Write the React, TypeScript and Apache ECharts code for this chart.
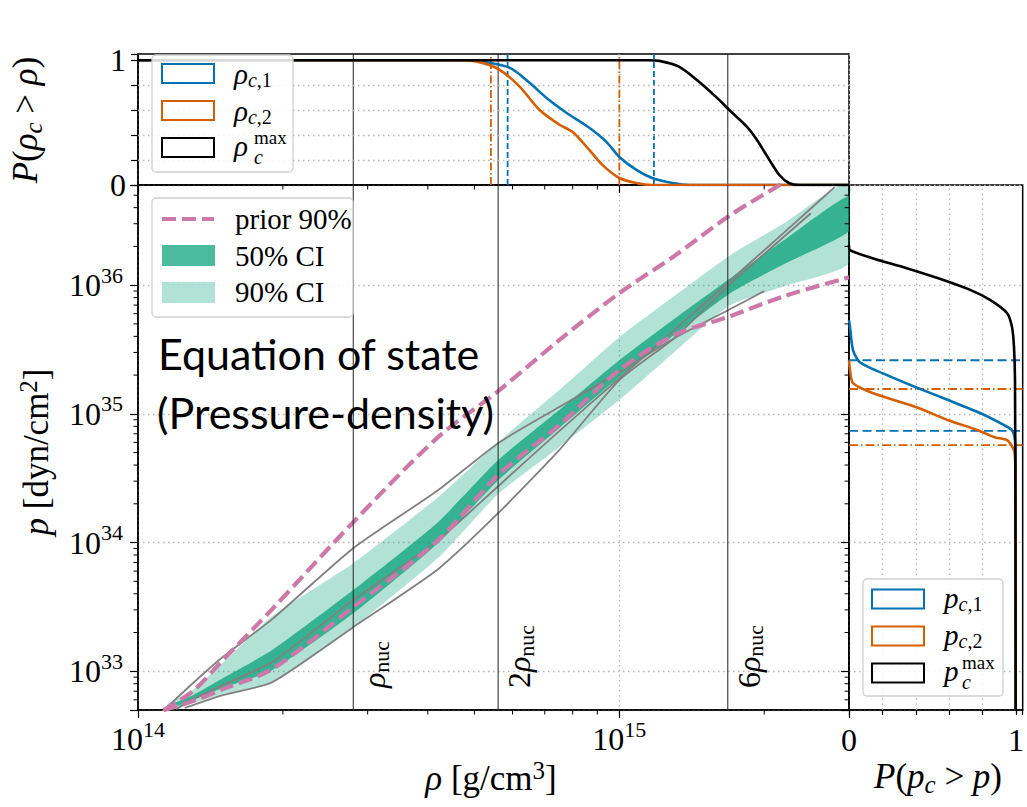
import React, { useEffect, useRef } from 'react';
import * as echarts from 'echarts';

// ---- axis ranges ----
const RHO_MIN = 1e14;
const RHO_MAX = 3e15;
const P_MIN = 5e32;
const P_MAX = 6e36;
const PROB_TOP = 1.05;
const PROB_RIGHT = 1.04;

// nuclear saturation density and the multiples marked on the plot
const RHO_NUC = 2.8e14;
const NUC_MULTIPLES = [1, 2, 6];

// ---- posterior credible bands (rho in g/cm^3, p in dyn/cm^2) ----
const bandRho = [1.15e14, 1.3e14, 1.5e14, 1.9e14, 2.8e14, 4.2e14, 5.6e14, 7.5e14, 1e15, 1.3e15, 1.7e15, 2.2e15, 3e15];
const ci90Upper = [5.55e32, 7.13e32, 1.16e33, 2.68e33, 6.92e33, 2.25e34, 6.03e34, 1.53e35, 3.94e35, 8.22e35, 1.71e36, 3.03e36, 6.31e36];
const ci50Upper = [5.36e32, 6.52e32, 8.83e32, 1.46e33, 4.27e33, 1.44e34, 4.37e34, 1.07e35, 2.61e35, 5.45e35, 1.13e36, 2.24e36, 4.92e36];
const ci50Lower = [5.08e32, 5.96e32, 7.4e32, 1.02e33, 2.82e33, 9.89e33, 3.05e34, 7.74e34, 1.93e35, 4.09e35, 8.67e35, 1.46e36, 2.63e36];
const ci90Lower = [4.9e32, 5.65e32, 6.64e32, 8.07e32, 2.2e33, 7.57e33, 2.38e34, 5.51e34, 1.28e35, 3.01e35, 7.0e35, 9.82e35, 1.48e36];

// ---- prior 90% envelope ----
const priorRho = [1.13e14, 1.3e14, 1.5e14, 1.9e14, 2.8e14, 4.2e14, 5.6e14, 7.5e14, 1e15, 1.3e15, 1.7e15, 2.2e15, 3e15];
const priorUpper = [4.99e32, 7.0e32, 1.22e33, 3.04e33, 1.44e34, 6.59e34, 1.5e35, 3.74e35, 8.67e35, 1.68e36, 3.5e36, 6.31e36, 1.35e37];
const priorLower = [4.99e32, 5.86e32, 7.26e32, 1.04e33, 3.15e33, 1.04e34, 3.34e34, 8.17e34, 2.19e35, 4.09e35, 5.74e35, 8.22e35, 1.15e36];

// ---- sample equations of state ----
const eosARho = [1.12e14, 1.3e14, 1.5e14, 1.9e14, 2.8e14, 4.2e14, 5.6e14, 7.5e14, 1e15, 1.3e15, 1.7e15, 2.0e15];
const eosAP = [4.8e32, 8.07e32, 1.29e33, 2.54e33, 9.04e33, 2.55e34, 5.92e34, 1.13e35, 2.11e35, 3.87e35, 6.52e35, 8.98e35];
const eosBRho = [1.2e14, 1.3e14, 1.5e14, 1.9e14, 2.8e14, 4.2e14, 5.6e14, 7.5e14, 1e15, 1.3e15, 1.7e15, 2.3e15, 2.8e15];
const eosBP = [5.08e32, 6.07e32, 7.8e32, 1.18e33, 3.57e33, 1.04e34, 2.74e34, 7.34e34, 1.89e35, 4.47e35, 1.09e36, 2.98e36, 5.77e36];
const eosCRho = [1.25e14, 1.3e14, 1.5e14, 1.9e14, 2.8e14, 4.2e14, 5.6e14, 7.5e14, 1e15, 1.3e15, 1.7e15, 2.5e15];
const eosCP = [5.18e32, 5.46e32, 6.52e32, 8.22e32, 2.2e33, 6.21e33, 1.69e34, 5.22e34, 1.83e35, 3.87e35, 1.02e36, 3.62e36];

// ---- survival functions of the central density ----
const rhoC1Rho = [1e14, 4.88e14, 5.12e14, 5.91e14, 6.5e14, 7.05e14, 7.76e14, 8.66e14, 9.4e14, 1e15, 1.085e15, 1.17e15, 1.29e15, 1.4e15, 3e15];
const rhoC1Prob = [1, 1, 0.992, 0.941, 0.821, 0.7, 0.579, 0.459, 0.346, 0.225, 0.121, 0.056, 0.016, 0, 0];
const rhoC2Rho = [1e14, 4.6e14, 5.12e14, 5.63e14, 6.2e14, 6.82e14, 7.51e14, 7.99e14, 8.66e14, 9.22e14, 1e15, 1.085e15, 1.17e15, 3e15];
const rhoC2Prob = [1, 1, 0.985, 0.925, 0.791, 0.603, 0.483, 0.426, 0.282, 0.161, 0.056, 0.016, 0, 0];
const rhoMaxRho = [1e14, 1.15e15, 1.21e15, 1.33e15, 1.47e15, 1.61e15, 1.69e15, 1.84e15, 1.93e15, 2.05e15, 2.15e15, 2.25e15, 2.37e15, 3e15];
const rhoMaxProb = [1, 1, 0.995, 0.949, 0.821, 0.684, 0.603, 0.467, 0.362, 0.201, 0.08, 0.016, 0, 0];
// credible-interval bounds of the central density
const rhoC1Bounds = [5.86e14, 1.18e15];
const rhoC2Bounds = [5.41e14, 1.0e15];

// ---- survival functions of the central pressure ----
const pC1P = [5.35e35, 4.72e35, 3.13e35, 2.52e35, 2.07e35, 1.61e35, 1.28e35, 1.01e35, 8.17e34, 7.47e34, 6.25e34, 4.37e34, 5e32];
const pC1Prob = [0, 0.006, 0.024, 0.065, 0.2, 0.4, 0.594, 0.788, 0.929, 0.976, 0.994, 0.997, 0.998];
const pC2P = [2.61e35, 2.19e35, 1.73e35, 1.45e35, 1.13e35, 8.93e34, 7.47e34, 6.59e34, 6.25e34, 5.22e34, 4.61e34, 3.05e34, 5e32];
const pC2Prob = [0, 0.006, 0.024, 0.141, 0.4, 0.594, 0.771, 0.871, 0.947, 0.988, 0.994, 0.997, 0.998];
const pMaxP = [2.05e36, 1.87e36, 1.62e36, 1.36e36, 1.13e36, 9.14e35, 7.64e35, 6.05e35, 4.72e35, 3.3e35, 1.83e35, 1e34, 5e32];
const pMaxProb = [0, 0.006, 0.141, 0.341, 0.535, 0.729, 0.847, 0.947, 0.976, 0.988, 0.994, 0.997, 0.998];
// credible-interval bounds of the central pressure
const pC1Bounds = [2.61e35, 7.38e34];
const pC2Bounds = [1.56e35, 5.72e34];

// ---- tick positions ----
const probGrid = [0.2, 0.4, 0.6, 0.8];
const rhoMinorTicks = [2e14, 3e14, 4e14, 5e14, 6e14, 7e14, 8e14, 9e14, 2e15];
const pMinorTicks = [
  6e32, 7e32, 8e32, 9e32,
  2e33, 3e33, 4e33, 5e33, 6e33, 7e33, 8e33, 9e33,
  2e34, 3e34, 4e34, 5e34, 6e34, 7e34, 8e34, 9e34,
  2e35, 3e35, 4e35, 5e35, 6e35, 7e35, 8e35, 9e35,
  2e36, 3e36, 4e36, 5e36,
];

const SERIF = "'Liberation Serif', 'DejaVu Serif', serif";
const SANS = "Lato, 'Open Sans', sans-serif";
const BLUE = '#0072B2';
const ORANGE = '#D55E00';
const PINK = '#CC79A7';
const GREY = '#808080';
const GRID_DOT = '#b5b5b5';

const mathRich = (size: number, lift = 6) => {
  const s = Math.round(size * 0.7);
  return {
    i: { fontFamily: SERIF, fontStyle: 'italic', fontSize: size, lineHeight: size + lift, color: '#000' },
    r: { fontFamily: SERIF, fontSize: size, lineHeight: size + lift, color: '#000' },
    sbi: { fontFamily: SERIF, fontStyle: 'italic', fontSize: s, lineHeight: s, verticalAlign: 'bottom', color: '#000' },
    sbr: { fontFamily: SERIF, fontSize: s, lineHeight: s, verticalAlign: 'bottom', color: '#000' },
    sp: { fontFamily: SERIF, fontSize: s, lineHeight: s, verticalAlign: 'top', color: '#000' },
  };
};

const tickRich = {
  b: { fontFamily: SERIF, fontSize: 32, lineHeight: 42, color: '#000' },
  s: { fontFamily: SERIF, fontSize: 22, lineHeight: 22, verticalAlign: 'top', color: '#000' },
};

const powLabel = (v: number) => {
  const e = Math.log10(v);
  const n = Math.round(e);
  return Math.abs(e - n) < 1e-6 ? `{b|10}{s|${n}}` : '';
};
const zeroOneLabel = (v: number) => (Math.abs(v) < 1e-9 ? '0' : Math.abs(v - 1) < 1e-9 ? '1' : '');

const pairs = (xs: number[], ys: number[]) => xs.map((x, i) => [x, ys[i]]);

const lineSeries = (
  xi: number, yi: number, data: number[][], color: string, width: number,
  type: any = 'solid', z = 5, smooth: number | boolean = false,
) => ({
  type: 'line', xAxisIndex: xi, yAxisIndex: yi, data, symbol: 'none', silent: true, z,
  smooth, lineStyle: { color, width, type, cap: 'butt' }, clip: true,
});

const bandSeries = (lower: number[], upper: number[], fill: string, z: number) => ({
  type: 'custom', xAxisIndex: 1, yAxisIndex: 1, clip: true, silent: true, z,
  data: bandRho.map((r, i) => [r, lower[i], upper[i]]),
  encode: { x: 0, y: [1, 2] },
  renderItem: (params: any, api: any) => {
    if (params.dataIndex !== 0) return null;
    const top = bandRho.map((r, i) => api.coord([r, upper[i]]));
    const bottom = bandRho.map((r, i) => api.coord([r, lower[i]])).reverse();
    return { type: 'polygon', shape: { points: top.concat(bottom), smooth: 0.18 }, style: { fill } };
  },
});

const tickSeries = (xi: number, yi: number, data: number[][], dx: number, dy: number) => ({
  type: 'custom', xAxisIndex: xi, yAxisIndex: yi, clip: false, silent: true, z: 20,
  data,
  renderItem: (params: any, api: any) => {
    const pt = api.coord([api.value(0), api.value(1)]);
    return {
      type: 'line',
      shape: { x1: pt[0], y1: pt[1], x2: pt[0] + dx, y2: pt[1] + dy },
      style: { stroke: '#000', lineWidth: 1 },
    };
  },
});

const gridMarkSeries = (xi: number, yi: number, anchor: number[], marks: any[]) => ({
  type: 'line', xAxisIndex: xi, yAxisIndex: yi, data: [anchor], symbol: 'none', silent: true, z: 1,
  lineStyle: { opacity: 0 },
  markLine: {
    silent: true, symbol: 'none', label: { show: false },
    lineStyle: { color: GRID_DOT, type: [1.5, 3.5], width: 1.3 },
    data: marks,
  },
});

const nucLabelSeries = {
  type: 'custom', xAxisIndex: 1, yAxisIndex: 1, clip: false, silent: true, z: 30,
  data: NUC_MULTIPLES.map((k) => [k * RHO_NUC, P_MIN, k]),
  renderItem: (params: any, api: any) => {
    const pt = api.coord([api.value(0), api.value(1)]);
    const k = api.value(2);
    const text = k === 1 ? '{i|ρ}{sbr|nuc}' : `{r|${k}}{i|ρ}{sbr|nuc}`;
    return {
      type: 'text', x: pt[0] + 21, y: pt[1] - 22, rotation: Math.PI / 2,
      style: { text, rich: mathRich(32, 4), align: 'left', verticalAlign: 'middle', fill: '#000' },
    };
  },
};

const textEl = (x: number, y: number, text: string, size: number, extra: any = {}, lift = 6) => ({
  type: 'text', x, y, z: 100, silent: true,
  ...extra,
  style: {
    text, rich: mathRich(size, lift), fontFamily: SERIF, fontSize: size, fill: '#000',
    align: 'left', verticalAlign: 'middle', ...(extra.style || {}),
  },
});

const plainText = (x: number, y: number, text: string, size: number, italic = false) => ({
  type: 'text', x, y, z: 100, silent: true,
  style: {
    text, fontFamily: SERIF, fontSize: size, fontStyle: italic ? 'italic' : 'normal', fill: '#000',
    align: 'left', verticalAlign: 'middle',
  },
});

const legendBox = (x: number, y: number, w: number, h: number) => ({
  type: 'rect', z: 90, silent: true,
  shape: { x, y, width: w, height: h, r: 4 },
  style: { fill: 'rgba(255,255,255,0.85)', stroke: '#d0d0d0', lineWidth: 1.3 },
});

const outlinePatch = (x: number, cy: number, color: string) => ({
  type: 'rect', z: 95, silent: true,
  shape: { x, y: cy - 9.5, width: 52, height: 19 },
  style: { fill: 'none', stroke: color, lineWidth: 2 },
});

function buildOption() {
  const series: any[] = [];

  // --- top panel: P(rho_c > rho) ---
  series.push(gridMarkSeries(0, 0, [RHO_MIN, 0], probGrid.map((v) => ({ yAxis: v }))));
  NUC_MULTIPLES.forEach((k) =>
    series.push(lineSeries(0, 0, [[k * RHO_NUC, 0], [k * RHO_NUC, PROB_TOP]], '#222', 1, 'solid', 3)),
  );
  rhoC1Bounds.forEach((r) =>
    series.push(lineSeries(0, 0, [[r, 0], [r, PROB_TOP]], BLUE, 1.8, [6, 3], 4)),
  );
  rhoC2Bounds.forEach((r) =>
    series.push(lineSeries(0, 0, [[r, 0], [r, PROB_TOP]], ORANGE, 1.8, [8, 2.5, 1.5, 2.5], 4)),
  );
  series.push(lineSeries(0, 0, pairs(rhoC1Rho, rhoC1Prob), BLUE, 2.6, 'solid', 6, 0.3));
  series.push(lineSeries(0, 0, pairs(rhoC2Rho, rhoC2Prob), ORANGE, 2.6, 'solid', 6, 0.3));
  series.push(lineSeries(0, 0, pairs(rhoMaxRho, rhoMaxProb), '#000', 2.6, 'solid', 6, 0.3));
  series.push(tickSeries(0, 0, rhoMinorTicks.map((r) => [r, 0]), 0, 4.5));

  // --- main panel: pressure vs density ---
  series.push(bandSeries(ci90Lower, ci90Upper, 'rgba(0,158,115,0.3)', 2));
  series.push(bandSeries(ci50Lower, ci50Upper, 'rgba(0,158,115,0.7)', 3));
  [pairs(eosARho, eosAP), pairs(eosBRho, eosBP), pairs(eosCRho, eosCP)].forEach((d) =>
    series.push(lineSeries(1, 1, d, GREY, 1.8, 'solid', 5, 0.2)),
  );
  series.push(lineSeries(1, 1, pairs(priorRho, priorUpper), PINK, 4.2, [14, 6], 7, 0.3));
  series.push(lineSeries(1, 1, pairs(priorRho, priorLower), PINK, 4.2, [14, 6], 7, 0.3));
  NUC_MULTIPLES.forEach((k) =>
    series.push(lineSeries(1, 1, [[k * RHO_NUC, P_MIN], [k * RHO_NUC, P_MAX]], '#222', 1, 'solid', 8)),
  );
  series.push(nucLabelSeries);
  series.push(tickSeries(1, 1, rhoMinorTicks.map((r) => [r, P_MIN]), 0, 4.5));
  series.push(tickSeries(1, 1, pMinorTicks.map((p) => [RHO_MIN, p]), -4.5, 0));

  // --- right panel: P(p_c > p) ---
  series.push(gridMarkSeries(2, 2, [0, P_MIN], probGrid.map((v) => ({ xAxis: v }))));
  pC1Bounds.forEach((p) =>
    series.push(lineSeries(2, 2, [[0, p], [PROB_RIGHT, p]], BLUE, 1.8, [9, 4.5], 4)),
  );
  pC2Bounds.forEach((p) =>
    series.push(lineSeries(2, 2, [[0, p], [PROB_RIGHT, p]], ORANGE, 1.8, [9, 3, 1.5, 3], 4)),
  );
  series.push(lineSeries(2, 2, pairs(pC1Prob, pC1P), BLUE, 2.6, 'solid', 6, 0.25));
  series.push(lineSeries(2, 2, pairs(pC2Prob, pC2P), ORANGE, 2.6, 'solid', 6, 0.25));
  series.push(lineSeries(2, 2, pairs(pMaxProb, pMaxP), '#000', 2.6, 'solid', 6, 0.25));
  series.push(tickSeries(2, 2, pMinorTicks.map((p) => [0, p]), -4.5, 0));

  const axisLine = { show: true, lineStyle: { color: '#000', width: 1.5 } };
  const majorTick = (len: number) => ({ show: true, length: len, lineStyle: { color: '#000', width: 1.2 } });
  const dotted = { show: true, lineStyle: { color: GRID_DOT, type: [1.5, 3.5], width: 1.3 } };
  const frame = { show: true, borderColor: '#000', borderWidth: 1.5, backgroundColor: 'transparent' };

  const graphic: any[] = [
    // headline text
    { type: 'text', x: 158, y: 353, z: 110, silent: true,
      style: { text: 'Equation of state', fontFamily: SANS, fontSize: 43, fill: '#000', align: 'left', verticalAlign: 'middle' } },
    { type: 'text', x: 157, y: 412, z: 110, silent: true,
      style: { text: '(Pressure-density)', fontFamily: SANS, fontSize: 43, fill: '#000', align: 'left', verticalAlign: 'middle' } },

    // axis titles
    textEl(25, 120, '{i|P}{r|(}{i|ρ}{sbi|c}{r| > }{i|ρ}{r|)}', 35, { rotation: Math.PI / 2, style: { align: 'center' } }),
    textEl(36, 452, '{i|p}{r| [dyn/cm}{sp|2}{r|]}', 35, { rotation: Math.PI / 2, style: { align: 'center' } }),
    textEl(491, 778, '{i|ρ}{r| [g/cm}{sp|3}{r|]}', 35, { style: { align: 'center' } }),
    textEl(938, 776, '{i|P}{r|(}{i|p}{sbi|c}{r| > }{i|p}{r|)}', 35, { style: { align: 'center' } }),

    // legend: central density
    legendBox(152, 55, 141, 117),
    outlinePatch(162, 73.5, BLUE),
    outlinePatch(162, 110.5, ORANGE),
    outlinePatch(162, 147.5, '#000'),
    textEl(234, 74, '{i|ρ}{sbi|c}{sbr|,1}', 29, {}, 2),
    textEl(234, 111, '{i|ρ}{sbi|c}{sbr|,2}', 29, {}, 2),
    plainText(234, 146, 'ρ', 29, true),
    plainText(254, 157, 'c', 20, true),
    plainText(254, 137, 'max', 19),

    // legend: pressure-density bands
    legendBox(152, 198, 201, 119),
    { type: 'line', z: 95, silent: true, shape: { x1: 162, y1: 219, x2: 214, y2: 219 },
      style: { stroke: PINK, lineWidth: 4.2, lineDash: [14, 6] } },
    { type: 'rect', z: 95, silent: true, shape: { x: 162, y: 245, width: 53, height: 21 }, style: { fill: 'rgba(0,158,115,0.7)' } },
    { type: 'rect', z: 95, silent: true, shape: { x: 162, y: 282, width: 53, height: 21 }, style: { fill: 'rgba(0,158,115,0.3)' } },
    plainText(235, 219, 'prior 90%', 29),
    plainText(235, 256, '50% CI', 29),
    plainText(235, 292, '90% CI', 29),

    // legend: central pressure
    legendBox(863, 579, 140, 117),
    outlinePatch(872, 599, BLUE),
    outlinePatch(872, 636, ORANGE),
    outlinePatch(872, 673, '#000'),
    textEl(944, 598, '{i|p}{sbi|c}{sbr|,1}', 29, {}, 2),
    textEl(944, 635, '{i|p}{sbi|c}{sbr|,2}', 29, {}, 2),
    plainText(944, 671, 'p', 29, true),
    plainText(962, 682, 'c', 20, true),
    plainText(962, 662, 'max', 19),
  ];

  return {
    animation: false,
    backgroundColor: '#fff',
    textStyle: { fontFamily: SERIF },
    grid: [
      { left: 138, top: 54, width: 711, height: 131, ...frame },
      { left: 138, top: 185, width: 711, height: 525, ...frame },
      { left: 849, top: 185, width: 177, height: 525, ...frame },
    ],
    xAxis: [
      { gridIndex: 0, type: 'log', logBase: 10, min: RHO_MIN, max: RHO_MAX, axisLine,
        axisTick: majorTick(8), axisLabel: { show: false }, splitLine: dotted },
      { gridIndex: 1, type: 'log', logBase: 10, min: RHO_MIN, max: RHO_MAX, axisLine,
        axisTick: majorTick(8), splitLine: dotted,
        axisLabel: { formatter: powLabel, rich: tickRich, margin: 8, showMinLabel: true, showMaxLabel: true } },
      { gridIndex: 2, type: 'value', min: 0, max: PROB_RIGHT, interval: 0.2, axisLine,
        axisTick: majorTick(5), splitLine: { show: false },
        axisLabel: { formatter: zeroOneLabel, fontFamily: SERIF, fontSize: 32, color: '#000', margin: 14, showMinLabel: true } },
    ],
    yAxis: [
      { gridIndex: 0, type: 'value', min: 0, max: PROB_TOP, interval: 0.2, axisLine,
        axisTick: majorTick(7), splitLine: { show: false },
        axisLabel: { formatter: zeroOneLabel, fontFamily: SERIF, fontSize: 32, color: '#000', margin: 12, showMinLabel: true } },
      { gridIndex: 1, type: 'log', logBase: 10, min: P_MIN, max: P_MAX, axisLine,
        axisTick: majorTick(8), splitLine: dotted,
        axisLabel: { formatter: powLabel, rich: tickRich, margin: 15 } },
      { gridIndex: 2, type: 'log', logBase: 10, min: P_MIN, max: P_MAX, axisLine,
        axisTick: majorTick(8), splitLine: dotted, axisLabel: { show: false } },
    ],
    series,
    graphic,
  };
}

export default function App() {
  const ref = useRef<HTMLDivElement>(null);
  useEffect(() => {
    if (!ref.current) return;
    const chart = echarts.init(ref.current, null, { renderer: 'svg' });
    chart.setOption(buildOption() as any);
    return () => chart.dispose();
  }, []);
  return (
    <div
      ref={ref}
      style={{ position: 'absolute', left: 0, top: 0, width: 1027, height: 807, background: '#fff' }}
    />
  );
}
